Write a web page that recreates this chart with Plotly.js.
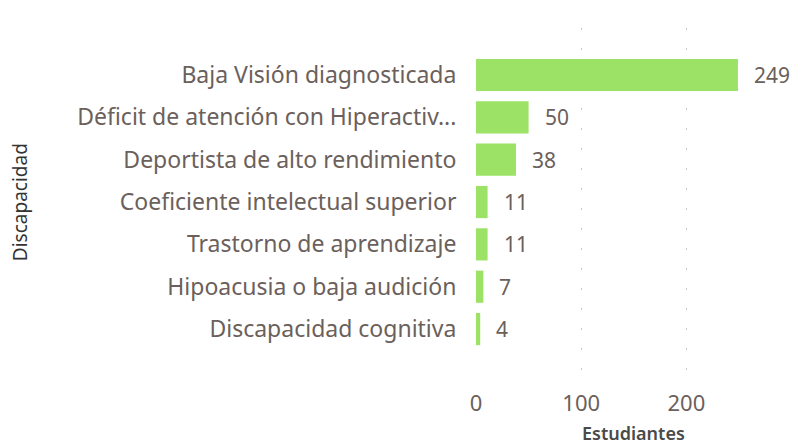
<!DOCTYPE html>
<html>
<head>
<meta charset="utf-8">
<script src="https://cdn.plot.ly/plotly-3.0.1.min.js"></script>
<style>html,body{margin:0;padding:0;background:#fff;}#chart{width:794px;height:445px;}</style>
</head>
<body>
<div id="chart"></div>
<script>
const categories = [
  "Baja Visión diagnosticada",
  "Déficit de atención con Hiperactiv...",
  "Deportista de alto rendimiento",
  "Coeficiente intelectual superior",
  "Trastorno de aprendizaje",
  "Hipoacusia o baja audición",
  "Discapacidad cognitiva"
];
const values = [249, 50, 38, 11, 11, 7, 4];
const xTicks = [0, 100, 200];
const xTickLabels = ["0", "100", "200"];
const xTitle = "Estudiantes";
const yTitle = "Discapacidad";

const textColor = "#6b605b";
const font = "Noto Sans, Segoe UI, sans-serif";

const trace = {
  type: "bar",
  orientation: "h",
  x: values,
  y: categories,
  marker: { color: "#9be266" },
  hoverinfo: "x+y"
};

const annotations = categories.map((c, i) => ({
  x: values[i], y: c, xref: "x", yref: "y",
  text: String(values[i]), showarrow: false,
  xanchor: "left", xshift: 14,
  font: { family: font, size: 21, color: textColor }
}));

annotations.push({
  xref: "paper", yref: "paper", x: 0.5, y: -0.143,
  xanchor: "center", yanchor: "middle", showarrow: false,
  text: xTitle,
  font: { family: font, size: 18, color: "#4a4a4a", weight: 600 }
});
annotations.push({
  xref: "paper", yref: "paper", x: 0, y: 0.508, xshift: -456,
  xanchor: "center", yanchor: "middle", showarrow: false,
  textangle: -90,
  text: yTitle,
  font: { family: font, size: 19, color: "#333333" }
});

const layout = {
  width: 794, height: 445,
  margin: { l: 476, r: 4, t: 28, b: 63, pad: 0 },
  paper_bgcolor: "#ffffff", plot_bgcolor: "#ffffff",
  bargap: 0.24,
  showlegend: false,
  xaxis: {
    range: [0, 298.5],
    tickvals: xTicks, ticktext: xTickLabels,
    showgrid: true, gridcolor: "#c8c8c8", griddash: "2px,18px", gridwidth: 1,
    zeroline: false, showline: false,
    ticks: "outside", ticklen: 2, tickcolor: "rgba(0,0,0,0)",
    tickfont: { family: font, size: 22, color: textColor },
    automargin: false
  },
  yaxis: {
    type: "category",
    range: [7.25, -1.11],
    showgrid: false, zeroline: false, showline: false,
    ticks: "outside", ticklen: 14, tickcolor: "rgba(0,0,0,0)",
    tickfont: { family: font, size: 23, color: textColor },
    automargin: false
  },
  annotations: annotations
};

Plotly.newPlot("chart", [trace], layout, { displayModeBar: false, staticPlot: true });
</script>
</body>
</html>
